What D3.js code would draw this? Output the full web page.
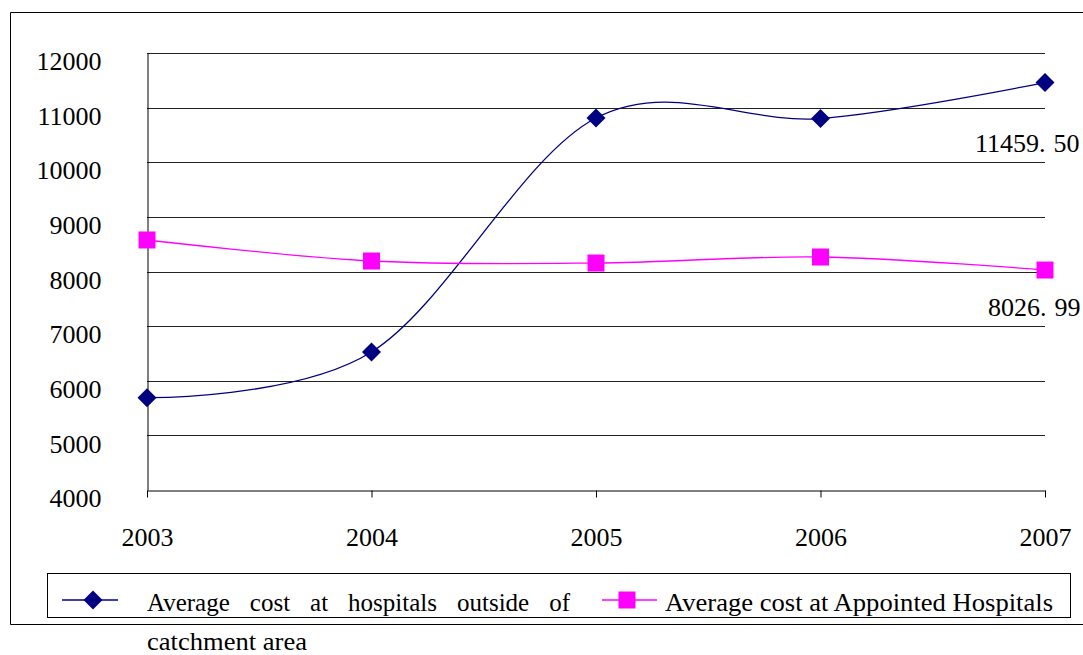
<!DOCTYPE html>
<html><head><meta charset="utf-8">
<script src="https://cdn.jsdelivr.net/npm/d3@7"></script>
<style>
html,body{margin:0;padding:0;background:#fff;}
svg{display:block;}
</style></head>
<body>
<svg id="chart" width="1083" height="655"></svg>
<script>
const years = ["2003","2004","2005","2006","2007"];
const outsideCost = [5690, 6526, 10810, 10800, 11459.50];
const appointedCost = [8577, 8192, 8155, 8265, 8026.99];
const yTicks = [4000,5000,6000,7000,8000,9000,10000,11000,12000];
const seriesNames = ["Average cost at hospitals outside of catchment area", "Average cost at Appointed Hospitals"];

const FONT = "'Liberation Serif', 'DejaVu Serif', 'Times New Roman', Times, serif";
const svg = d3.select("#chart").attr("font-family", FONT);
const x = d3.scalePoint().domain(years).range([147,1045]);
const y = d3.scaleLinear().domain([4000,12000]).range([490,53]);

// outer frame (right edge runs past the picture)
svg.append("path").attr("d","M1100,12.5 H10.5 V624.5 H1100")
  .attr("fill","none").attr("stroke","#000").attr("stroke-width",1);

// gridlines
svg.append("g").selectAll("line").data(yTicks.filter(d=>d>4000)).join("line")
  .attr("x1",147).attr("x2",1045).attr("y1",d=>Math.round(y(d))+0.5).attr("y2",d=>Math.round(y(d))+0.5)
  .attr("stroke","#222").attr("stroke-width",1);

// y axis
const yAxis = svg.append("g").attr("transform","translate(147.5,0)")
  .call(d3.axisLeft(y).tickValues(yTicks).tickSize(0).tickPadding(46).tickFormat(d3.format("d")));
yAxis.attr("font-family", null).attr("font-size", null);
yAxis.select(".domain").attr("stroke","#000");
yAxis.selectAll("text").style("font-family",FONT).style("font-size","26px").attr("dy","0.95em").attr("y",-8);

// x axis
const xAxis = svg.append("g").attr("transform","translate(0,490.5)")
  .call(d3.axisBottom(x).tickSize(7).tickPadding(30).tickSizeOuter(0));
xAxis.attr("font-family", null).attr("font-size", null);
xAxis.select(".domain").attr("stroke","#000");
xAxis.selectAll(".tick line").attr("stroke","#000");
xAxis.selectAll("text").style("font-family",FONT).style("font-size","26px");

// lines
const line = d3.line().x((d,i)=>x(years[i])).y(d=>y(d)).curve(d3.curveCardinal.tension(0));
svg.append("path").datum(outsideCost).attr("d",line).attr("fill","none").attr("stroke","#000080").attr("stroke-width",1.3);
svg.append("path").datum(appointedCost).attr("d",line).attr("fill","none").attr("stroke","#FF00FF").attr("stroke-width",1.3);

// markers
const diamond = s => `M0,${-s} L${s},0 L0,${s} L${-s},0 Z`;
svg.append("g").selectAll("path").data(outsideCost).join("path")
  .attr("transform",(d,i)=>`translate(${x(years[i])},${y(d)})`).attr("d",diamond(9.5)).attr("fill","#000080");
svg.append("g").selectAll("rect").data(appointedCost).join("rect")
  .attr("x",(d,i)=>x(years[i])-8.5).attr("y",d=>y(d)-8.5).attr("width",17).attr("height",17).attr("fill","#FF00FF");

// data labels for last points
function label(v, xx, yy){
  const s = v.toFixed(2).split(".");
  const t = svg.append("text").attr("x",xx).attr("y",yy).style("font-family",FONT).style("font-size","26px");
  t.append("tspan").text(s[0]+".");
  t.append("tspan").attr("dx",8).text(s[1]);
}
label(outsideCost[4], x("2007")-70, 152);
label(appointedCost[4], x("2007")-57, 316);

// legend
svg.append("rect").attr("x",47.5).attr("y",573.5).attr("width",1023).attr("height",44)
  .attr("fill","none").attr("stroke","#000").attr("stroke-width",1);
svg.append("line").attr("x1",62).attr("x2",118).attr("y1",600).attr("y2",600).attr("stroke","#000080").attr("stroke-width",1.3);
svg.append("path").attr("transform","translate(93,600)").attr("d",diamond(9.5)).attr("fill","#000080");
svg.append("line").attr("x1",602).attr("x2",657).attr("y1",600).attr("y2",600).attr("stroke","#FF00FF").attr("stroke-width",1.3);
svg.append("rect").attr("x",618.5).attr("y",591.5).attr("width",17).attr("height",17).attr("fill","#FF00FF");

// first legend entry: justified first line, wrapped second line
const words1 = seriesNames[0].split(" ");
const line1 = words1.slice(0,6).join(" "), line2 = words1.slice(6).join(" ");
const t1 = svg.append("text").attr("x",147).attr("y",611).style("font-family",FONT).style("font-size","25px").text(line1);
const nat = t1.node().getComputedTextLength();
t1.attr("word-spacing", ((570-147) - nat)/5);
const t2 = svg.append("text").attr("x",147).attr("y",650).style("font-family",FONT).style("font-size","25px").text(line2);
const w2 = t2.node().getComputedTextLength();
if (Math.abs(w2 - 160) > 4) t2.attr("textLength", 160).attr("lengthAdjust","spacingAndGlyphs");
const t3 = svg.append("text").attr("x",665).attr("y",611).style("font-family",FONT).style("font-size","25px").text(seriesNames[1]);
const w3 = t3.node().getComputedTextLength();
if (Math.abs(w3 - 388) > 4) t3.attr("textLength", 388).attr("lengthAdjust","spacingAndGlyphs");
</script>
</body></html>
